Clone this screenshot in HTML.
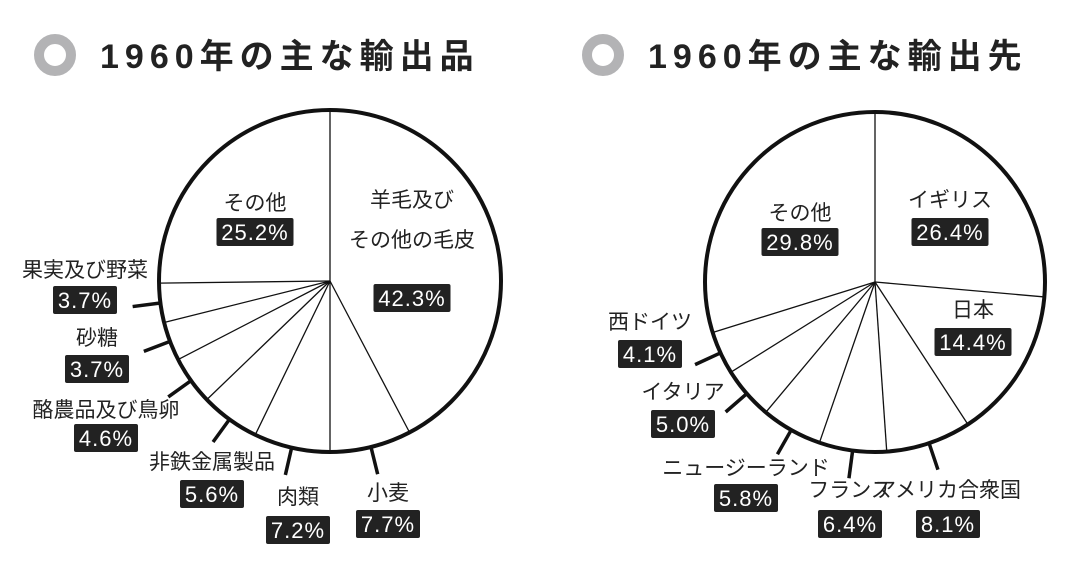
<!DOCTYPE html>
<html><head><meta charset="utf-8">
<style>
html,body{margin:0;padding:0;background:#fff;width:1080px;height:580px;overflow:hidden}
svg text{font-family:"Liberation Sans","Noto Sans CJK JP",sans-serif}
</style></head>
<body>
<svg id="chart" width="1080" height="580" viewBox="0 0 1080 580" xmlns="http://www.w3.org/2000/svg">
  <circle cx="55" cy="55" r="16" fill="none" stroke="#b3b3b5" stroke-width="10"/>
  <text x="100" y="68" font-size="34" font-weight="bold" letter-spacing="6" fill="#222">1960年の主な輸出品</text>
  <circle cx="603" cy="55" r="16" fill="none" stroke="#b3b3b5" stroke-width="10"/>
  <text x="648" y="68" font-size="34" font-weight="bold" letter-spacing="6" fill="#222">1960年の主な輸出先</text>
  <g id="pies"></g>
</svg>
<script>
// Left pie: main export goods 1960
const goodsNames = ["羊毛及び\nその他の毛皮","小麦","肉類","非鉄金属製品","酪農品及び鳥卵","砂糖","果実及び野菜","その他"];
const goodsValues = [42.3,7.7,7.2,5.6,4.6,3.7,3.7,25.2];
const goodsTick = [false,true,true,true,true,true,true,false];
// Right pie: main export destinations 1960
const destNames = ["イギリス","日本","アメリカ合衆国","フランス","ニュージーランド","イタリア","西ドイツ","その他"];
const destValues = [26.4,14.4,8.1,6.4,5.8,5.0,4.1,29.8];
const destTick = [false,false,true,true,true,true,true,false];

// label layout (box centers), not data
const goodsLabelPos = [[412,240,298],[388,493,524],[298,497,530],[212,462,494],[106,410,438],[97,338,369],[85,270,300],[255,203,232]];
const destLabelPos = [[950,200,232],[973,310,342],[948,490,524],[850,490,524],[746,468,498],[683,392,424],[650,322,354],[800,213,242]];

const NS="http://www.w3.org/2000/svg";
const root=document.getElementById('pies');
function mk(tag,attrs,parent){const e=document.createElementNS(NS,tag);for(const k in attrs)e.setAttribute(k,attrs[k]);(parent||root).appendChild(e);return e;}

function drawPie(id,cx,cy,r,names,values,ticks,labelPos){
  const g=mk('g',{});
  
  
  const total=values.reduce((a,b)=>a+b,0);
  const ang=v=>v/total*2*Math.PI;
  let acc=0;
  values.forEach((v,i)=>{
    const a=ang(acc);
    const ln=mk('line',{x1:cx,y1:cy,x2:cx+r*Math.sin(a),y2:cy-r*Math.cos(a),stroke:'#111','stroke-width':1.3},g);
    
    
    if(ticks[i]){
      const m=ang(acc+v/2);
      const t=mk('line',{x1:cx+(r+1)*Math.sin(m),y1:cy-(r+1)*Math.cos(m),x2:cx+(r+28)*Math.sin(m),y2:cy-(r+28)*Math.cos(m),stroke:'#111','stroke-width':3.5},g);
      
      
    }
    acc+=v;
  });
  const c=mk('circle',{cx:cx,cy:cy,r:r,fill:'none',stroke:'#111','stroke-width':4},g);
  
  
  names.forEach((n,i)=>{
    const [lx,ly,by]=labelPos[i];
    const lines=n.split('\n');
    lines.forEach((s,k)=>{
      const t=mk('text',{x:lx,y:ly+7-(lines.length-1-k)*40,'font-size':21,'text-anchor':'middle',fill:'#222'},g);
      t.textContent=s;
      
      
    });
    const txt=values[i].toFixed(1)+'%';
    const w=txt.length*13+12;
    const rect=mk('rect',{x:lx-w/2,y:by-14,width:w,height:28,rx:2,fill:'#222'},g);
    
    
    const vt=mk('text',{x:lx,y:by+8,'font-size':22,'text-anchor':'middle',fill:'#fff','letter-spacing':1},g);
    vt.textContent=txt;
    
    
  });
}
drawPie('goods',330,281,171,goodsNames,goodsValues,goodsTick,goodsLabelPos);
drawPie('dest',875,282,170,destNames,destValues,destTick,destLabelPos);
</script>
</body></html>
